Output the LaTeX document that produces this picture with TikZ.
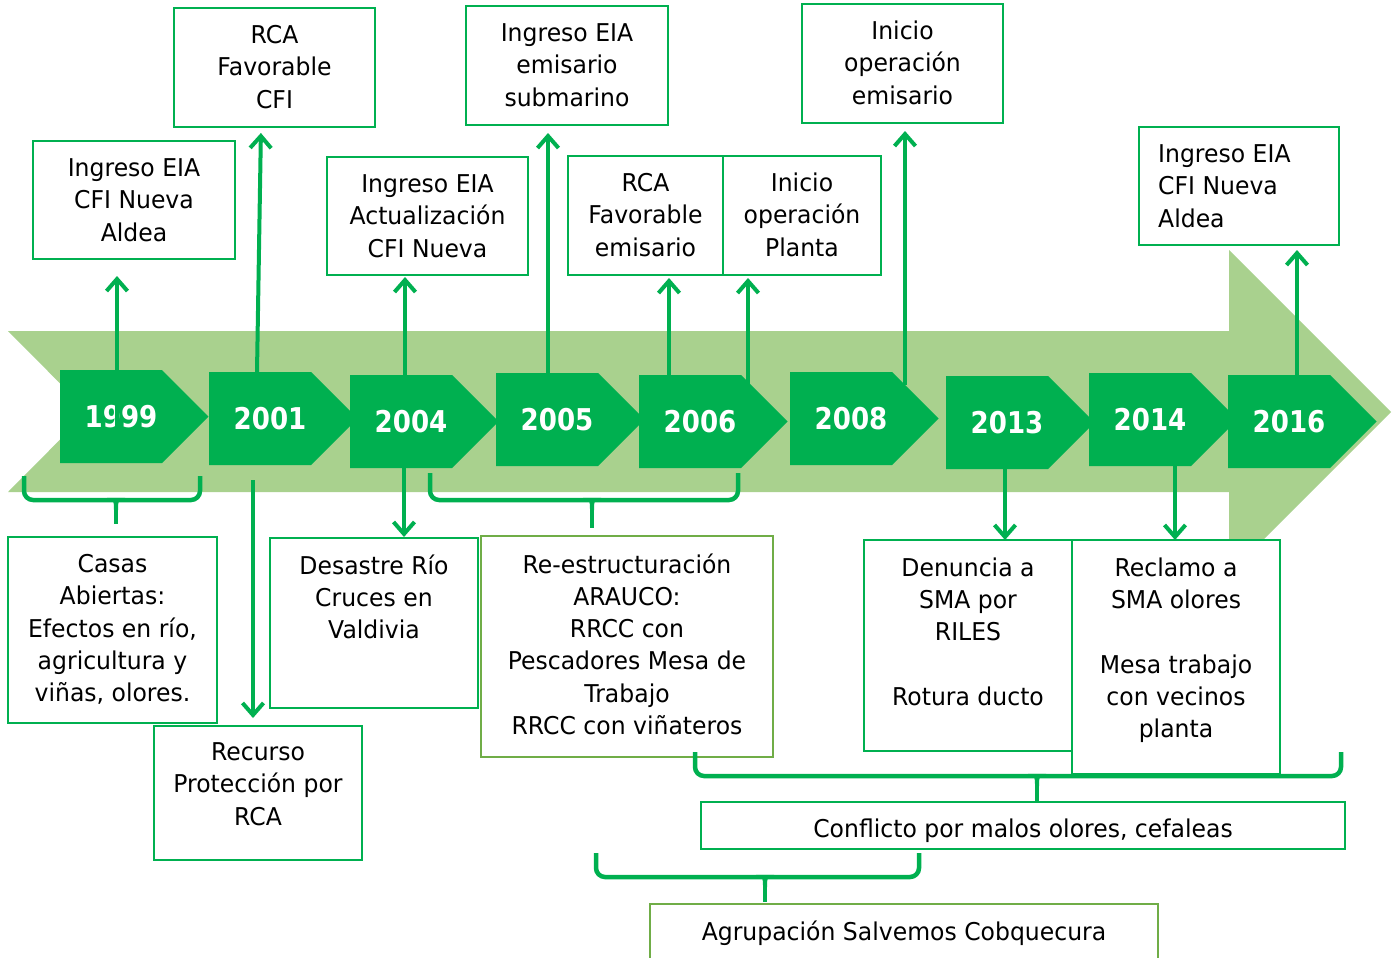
\documentclass[tikz,border=0pt]{standalone}
\usepackage{fontspec}
\setmainfont[FakeStretch=0.96]{DejaVu Sans}
\newfontfamily\yearfont[FakeStretch=0.87]{DejaVu Sans}
\usetikzlibrary{arrows.meta,calc}
\definecolor{dg}{RGB}{0,176,80}
\definecolor{lg}{RGB}{169,209,142}
\definecolor{og}{RGB}{112,173,71}
\newcommand{\fl}{\rule{0pt}{19pt}}
\tikzset{
  boxframe/.style={draw=dg, line width=1.8pt, fill=white, anchor=north west, inner sep=0pt, outer sep=0pt},
  boxtext/.style={anchor=north, align=center, inner sep=0pt, font=\fontsize{24.5}{32.2}\selectfont, text=black},
  yearbody/.style={anchor=north west, minimum width=102pt, minimum height=93pt, inner sep=0pt, outer sep=0pt},
  yeartext/.style={text=white, font=\yearfont\bfseries\fontsize{30}{36}\selectfont, inner sep=0pt},
  conn/.style={draw=dg, line width=4pt, -{Straight Barb[length=12pt,width=21pt]}},
  bracepath/.style={draw=dg, line width=4.5pt, rounded corners=9pt}
}
\newcommand{\yearbox}[4]{%
  \fill[dg] (#2,#3) -- ++(102,0) -- ++(46.5,46.5) -- ++(-46.5,46.5) -- ++(-102,0) -- cycle;
  \node[yearbody] (#1) at (#2,#3) {};
  \node[yeartext] at ([xshift=10pt]#1.center) {#4};
}
\newcommand{\bracket}[6]{% x1, x2, ytop, yh, xc, ybot
  \draw[bracepath] (#1,#3) -- (#1,#4) -- (#2,#4) -- (#2,#3);
  \fill[dg] (#5-9,#4-2.25) .. controls (#5-2,#4-2.25) and (#5-2,#4+2) .. (#5-2,#4+10)
     -- (#5+2,#4+10) .. controls (#5+2,#4+2) and (#5+2,#4-2.25) .. (#5+9,#4-2.25) -- cycle;
  \draw[dg, line width=4.5pt] (#5,#4) -- (#5,#6);
}
\begin{document}
\begin{tikzpicture}[x=1pt,y=-1pt]
\useasboundingbox (0,0) rectangle (1395,958);
\clip (0,0) rectangle (1395,958);
\fill[white] (0,0) rectangle (1395,958);

% background band arrow
\fill[lg] (8,331) -- (1229,331) -- (1229,250) -- (1391,412) -- (1229,574) -- (1229,492) -- (8,492) -- (88,411.5) -- cycle;

% year markers
\yearbox{y1999}{60}{370}{1999}
\yearbox{y2001}{209}{372}{2001}
\yearbox{y2004}{350}{375}{2004}
\yearbox{y2005}{496}{373}{2005}
\yearbox{y2006}{639}{375}{2006}
\yearbox{y2008}{790}{372}{2008}
\yearbox{y2013}{946}{376}{2013}
\yearbox{y2014}{1089}{373}{2014}
\yearbox{y2016}{1228}{375}{2016}

% top boxes
\node[boxframe, minimum width=202pt, minimum height=118pt] (t1) at (33,141) {};
\node[boxtext] at ([yshift=-16.5pt]t1.north) {\fl Ingreso EIA\\CFI Nueva\\Aldea};
\node[boxframe, minimum width=201pt, minimum height=119pt] (t2) at (174,8) {};
\node[boxtext] at ([yshift=-16.5pt]t2.north) {\fl RCA\\Favorable\\CFI};
\node[boxframe, minimum width=201pt, minimum height=118pt] (t3) at (327,157) {};
\node[boxtext] at ([yshift=-16.5pt]t3.north) {\fl Ingreso EIA\\Actualización\\CFI Nueva};
\node[boxframe, minimum width=202pt, minimum height=119pt] (t4) at (466,6) {};
\node[boxtext] at ([yshift=-16.5pt]t4.north) {\fl Ingreso EIA\\emisario\\submarino};
\node[boxframe, minimum width=155pt, minimum height=119pt] (t5) at (568,156) {};
\node[boxtext] at ([yshift=-16.5pt]t5.north) {\fl RCA\\Favorable\\emisario};
\node[boxframe, minimum width=158pt, minimum height=119pt] (t6) at (723,156) {};
\node[boxtext] at ([yshift=-16.5pt]t6.north) {\fl Inicio\\operación\\Planta};
\node[boxframe, minimum width=201pt, minimum height=119pt] (t7) at (802,4) {};
\node[boxtext] at ([yshift=-16.5pt]t7.north) {\fl Inicio\\operación\\emisario};
\node[boxframe, minimum width=200pt, minimum height=118pt] (t8) at (1139,127) {};
\node[boxtext, anchor=north west, align=left] at ([shift={(19pt,-16.5pt)}]t8.north west) {\fl Ingreso EIA\\CFI Nueva\\Aldea};

% bottom boxes
\node[boxframe, minimum width=209pt, minimum height=186pt] (b1) at (8,537) {};
\node[boxtext] at ([yshift=-16.5pt]b1.north) {\fl Casas\\Abiertas:\\Efectos en río,\\agricultura y\\viñas, olores.};
\node[boxframe, minimum width=208pt, minimum height=134pt] (b2) at (154,726) {};
\node[boxtext] at ([yshift=-15.5pt]b2.north) {\fl Recurso\\Protección por\\RCA};
\node[boxframe, minimum width=208pt, minimum height=170pt] (b3) at (270,538) {};
\node[boxtext] at ([yshift=-16.5pt]b3.north) {\fl Desastre Río\\Cruces en\\Valdivia};
\node[boxframe, draw=og, minimum width=292pt, minimum height=221pt] (b4) at (481,536) {};
\node[boxtext] at ([yshift=-17.5pt]b4.north) {\fl Re-estructuración\\ARAUCO:\\RRCC con\\Pescadores Mesa de\\Trabajo\\RRCC con viñateros};
\node[boxframe, minimum width=208pt, minimum height=211pt] (b5) at (864,540) {};
\node[boxtext] at ([yshift=-17pt]b5.north) {\fl Denuncia a\\SMA por\\RILES\\[32.2pt]Rotura ducto};
\node[boxframe, minimum width=208pt, minimum height=234pt] (b6) at (1072,540) {};
\node[boxtext] at ([yshift=-17.5pt]b6.north) {\fl Reclamo a\\SMA olores\\[32.2pt]Mesa trabajo\\con vecinos\\planta};
\node[boxframe, minimum width=644pt, minimum height=47pt] (b7) at (701,802) {};
\node[boxtext] at ([yshift=-16.5pt]b7.north) {\fl Conflicto por malos olores, cefaleas};
\node[boxframe, draw=og, minimum width=508pt, minimum height=70pt] (b8) at (650,904) {};
\node[boxtext] at ([yshift=-16.5pt]b8.north) {\fl Agrupación Salvemos Cobquecura};

% connectors upward
\draw[conn, shorten >=17pt] ([shift={(6pt,-11.5pt)}]y1999.center) -- ([xshift=-17pt]t1.south);
\draw[conn, shorten >=6pt] ([xshift=-3pt]y2001.north) -- ([xshift=-13.5pt]t2.south);
\draw[conn, shorten >=2pt] ([xshift=4pt]y2004.north) -- ([xshift=-22.5pt]t3.south);
\draw[conn, shorten >=8pt] ([xshift=1pt]y2005.north) -- ([xshift=-19pt]t4.south);
\draw[conn, shorten >=3pt] ([xshift=-21pt]y2006.north) -- ([xshift=23.5pt]t5.south);
\draw[conn, shorten >=3pt] ([shift={(58pt,-10pt)}]y2006.north) -- ([xshift=-54pt]t6.south);
\draw[conn, shorten >=8pt] ([shift={(64pt,-13pt)}]y2008.north) -- ([xshift=2.5pt]t7.south);
\draw[conn, shorten >=5pt] ([xshift=18pt]y2016.north) -- ([xshift=58pt]t8.south);

% connectors downward
\draw[conn, shorten >=8pt] ([shift={(-7pt,-15pt)}]y2001.south) -- ([xshift=-5pt]b2.north);
\draw[conn, shorten >=1pt] ([xshift=3pt]y2004.south) -- ([xshift=30pt]b3.north);
\draw[conn] ([xshift=8pt]y2013.south) -- ([xshift=37pt]b5.north);
\draw[conn] ([xshift=35pt]y2014.south) -- ([xshift=-1pt]b6.north);

% brackets
\bracket{24}{200}{476}{500}{116}{524}
\bracket{430}{738}{473}{500}{592}{528}
\bracket{695}{1341}{752}{776}{1037}{802}
\bracket{596}{919}{853}{877}{765}{902}
\end{tikzpicture}
\end{document}
